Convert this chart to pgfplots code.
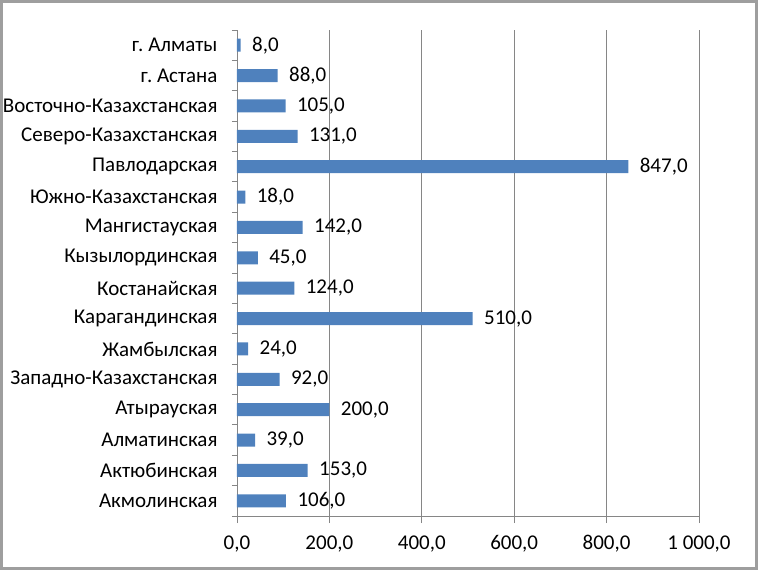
\documentclass[border=0pt]{standalone}
\usepackage{pgfplots}
\pgfplotsset{compat=1.18}
\usepackage{fontspec}
\setmainfont{Carlito}
\definecolor{barblue}{HTML}{4F81BD}
\definecolor{gridgray}{HTML}{868686}
\newcommand{\lbl}{\fontsize{21}{24}\selectfont}
\begin{document}
\begin{tikzpicture}
\path[use as bounding box] (0pt,0pt) rectangle (758pt,-571pt);
\draw[gridgray!80, line width=2.5pt] (1.25pt,-1.25pt) rectangle (756.5pt,-568.5pt);
\begin{axis}[
  at={(237pt,-516pt)}, anchor=south west,
  scale only axis, width=462pt, height=486pt,
  xbar, bar width=13pt,
  xmin=0, xmax=1000, ymin=-0.5, ymax=15.5,
  axis x line*=bottom, axis y line*=left,
  axis line style={gridgray, line width=0.8pt},
  tick align=outside,
  xtick={0,200,400,600,800,1000},
  xmajorgrids, grid style={gridgray, line width=0.8pt},
  major tick length=7pt,
  xtick style={gridgray, line width=0.8pt},
  ytick={0,...,15},
  yticklabels={Акмолинская,Актюбинская,Алматинская,Атырауская,Западно-Казахстанская,Жамбылская,Карагандинская,Костанайская,Кызылординская,Мангистауская,Южно-Казахстанская,Павлодарская,Северо-Казахстанская,Восточно-Казахстанская,г.\ Астана,г.\ Алматы},
  ytick style={draw=none},
  minor ytick={-0.5,0.5,...,15.5},
  minor tick length=5pt,
  minor y tick style={gridgray, line width=0.8pt, draw=gridgray},
  tick label style={font=\lbl, text=black},
  yticklabel style={xshift=-9pt},
  xticklabel style={yshift=-9pt},
  /pgf/number format/assume math mode=true,
  /pgf/number format/.cd, fixed, fixed zerofill, precision=1, use comma, 1000 sep={\ },
  /pgfplots/.cd,
  nodes near coords,
  nodes near coords style={font=\lbl, text=black, xshift=8pt,
    /pgf/number format/.cd, fixed, fixed zerofill, precision=1, use comma, 1000 sep={\ }, assume math mode=true},
]
\addplot[fill=barblue, draw=none] coordinates {
(106,0) (153,1) (39,2) (200,3) (92,4) (24,5) (510,6) (124,7) (45,8) (142,9) (18,10) (847,11) (131,12) (105,13) (88,14) (8,15)
};
\end{axis}
\end{tikzpicture}
\end{document}
